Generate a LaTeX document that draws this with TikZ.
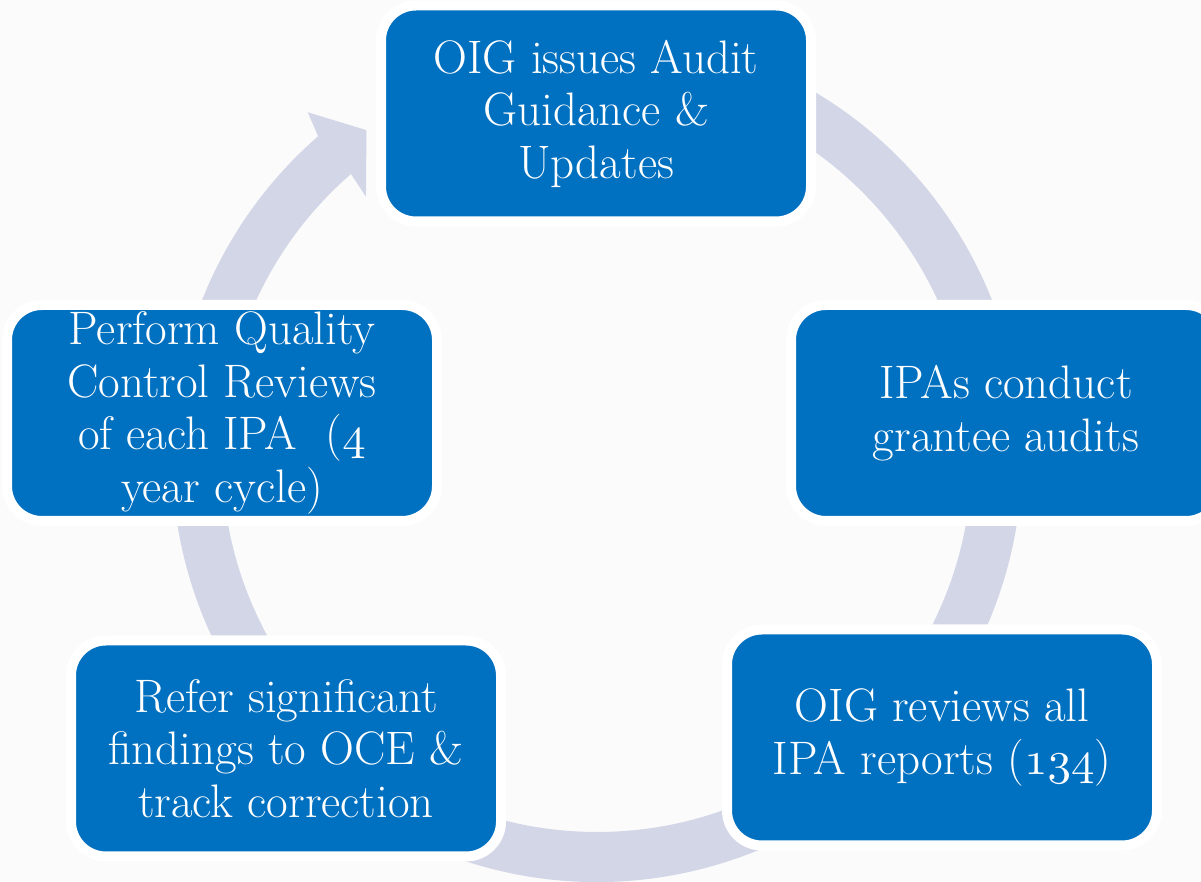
\documentclass[tikz,border=0pt]{standalone}
\usetikzlibrary{calc}
\definecolor{boxblue}{RGB}{0,112,192}
\definecolor{ringgray}{RGB}{211,214,231}
\definecolor{bgcol}{RGB}{251,251,251}
\DeclareFontFamily{OML}{myosf}{}
\DeclareFontShape{OML}{myosf}{m}{it}{<-> cmmi10}{}
\newcommand\osd[1]{{\usefont{OML}{myosf}{m}{it}#1}}
\tikzset{
  stepbox/.style={rounded corners=35pt, fill=boxblue, draw=white, line width=10pt,
    minimum width=430pt, minimum height=216pt, inner sep=0pt, text=white,
    align=center, font=\fontsize{47}{52.5}\selectfont},
  cutout/.style={fill=bgcol},
  ring/.style={fill=ringgray}
}
\begin{document}
\begin{tikzpicture}[x=1pt,y=1pt]
\useasboundingbox (0,0) rectangle (1201,882);
\fill[bgcol] (0,0) rectangle (1201,882);
\coordinate (C) at (597,425);
% ring shaft
\fill[ring] ($(C)+(65:425)$) arc[start angle=65, end angle=-229, radius=425pt]
  -- ($(C)+(-229:375)$) arc[start angle=-229, end angle=65, radius=375pt] -- cycle;
% arrow head
\fill[ring] ($(C)+(131:425)$) -- ($(C)+(130:450)$) -- ($(C)+(125.2:400)$)
  -- ($(C)+(131.6:348)$) -- ($(C)+(131:375)$) -- cycle;
% gaps around the boxes
\fill[cutout] (380,660) rectangle (812,882);
\fill[cutout] (790,360) rectangle (1210,579);
\fill[cutout] (-5,360) rectangle (440,579);
\fill[cutout] (731,162) rectangle (1151,255);
\fill[cutout] (76,162) rectangle (496,245);
% boxes
\node[stepbox] (guide) at (596,768.5) {OIG issues Audit\\Guidance \&\\Updates};
\node[stepbox] (audit) at (1006,469) {IPAs conduct\\grantee audits};
\node[stepbox] (review) at (942,144.5) {OIG reviews all\\IPA reports (\osd{134})};
\node[stepbox] (refer) at (286,133.5) {Refer significant\\findings to OCE \&\\track correction};
\node[stepbox] (qc) at (222,469) {Perform Quality\\Control Reviews\\of each IPA\ \ (\osd{4}\\year cycle)};
\end{tikzpicture}
\end{document}
